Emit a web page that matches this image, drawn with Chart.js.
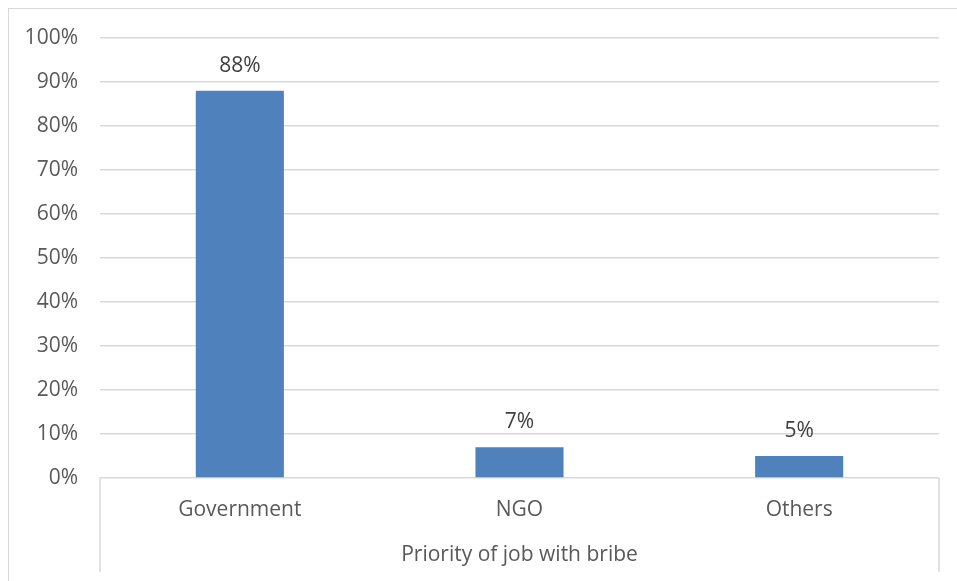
<!DOCTYPE html>
<html>
<head>
<meta charset="utf-8">
<script src="https://cdn.jsdelivr.net/npm/chart.js@4/dist/chart.umd.min.js"></script>
<style>
  html, body { margin: 0; padding: 0; background: #fff; }
  #wrap { position: relative; width: 957px; height: 581px; overflow: hidden; }
  #frame { position: absolute; left: 8px; top: 8px; width: 1000px; height: 700px;
           border-top: 1px solid #d9d9d9; border-left: 1px solid #d9d9d9; }
  canvas { position: absolute; left: 0; top: 0; }
</style>
</head>
<body>
<div id="wrap">
  <div id="frame"></div>
  <canvas id="myChart" width="957" height="581"></canvas>
</div>
<script>
const categories = ['Government', 'NGO', 'Others'];
const shares = [88, 7, 5];
const yTicks = [0, 10, 20, 30, 40, 50, 60, 70, 80, 90, 100];
const axisTitle = 'Priority of job with bribe';

const textFont = { family: "'Open Sans', 'Noto Sans', sans-serif", size: 21 };

// value labels above the bars + the box lines under the category axis
const barLabels = {
  id: 'barLabels',
  afterDatasetsDraw(chart) {
    const ctx = chart.ctx;
    const meta = chart.getDatasetMeta(0);
    ctx.save();
    ctx.font = textFont.size + 'px ' + textFont.family;
    ctx.fillStyle = '#404040';
    ctx.textAlign = 'center';
    ctx.textBaseline = 'middle';
    meta.data.forEach((bar, i) => {
      ctx.fillText(shares[i] + '%', bar.x, bar.y - 25);
    });
    ctx.restore();
  },
  afterDraw(chart) {
    const ctx = chart.ctx;
    const x = chart.scales.x;
    ctx.save();
    ctx.strokeStyle = '#d9d9d9';
    ctx.lineWidth = 1.5;
    ctx.beginPath();
    [x.left, x.right].forEach(px => {
      ctx.moveTo(px, x.top);
      ctx.lineTo(px, 572);
    });
    ctx.stroke();
    ctx.restore();
  }
};

new Chart(document.getElementById('myChart'), {
  type: 'bar',
  data: {
    labels: categories,
    datasets: [{
      data: shares,
      backgroundColor: '#4f81bd',
      borderWidth: 0,
      categoryPercentage: 1,
      barPercentage: 0.315
    }]
  },
  options: {
    responsive: false,
    animation: false,
    layout: { padding: { left: 8, top: 38, right: 18, bottom: 0 } },
    plugins: {
      legend: { display: false },
      tooltip: { enabled: false }
    },
    scales: {
      x: {
        grid: { display: false, drawTicks: false },
        border: { display: false },
        ticks: { color: '#595959', font: textFont, padding: 19 },
        title: {
          display: true,
          text: axisTitle,
          color: '#595959',
          font: textFont,
          padding: { top: 0, bottom: 13 }
        },
        afterFit(scale) { scale.height = 103; }
      },
      y: {
        min: 0,
        max: 100,
        afterBuildTicks(scale) { scale.ticks = yTicks.map(v => ({ value: v })); },
        grid: { color: '#d9d9d9', lineWidth: 1.5, drawTicks: false },
        border: { display: false },
        ticks: {
          color: '#595959',
          font: textFont,
          padding: 22,
          callback: v => v + '%'
        },
        afterFit(scale) { scale.width = 92; }
      }
    }
  },
  plugins: [barLabels]
});
</script>
</body>
</html>
